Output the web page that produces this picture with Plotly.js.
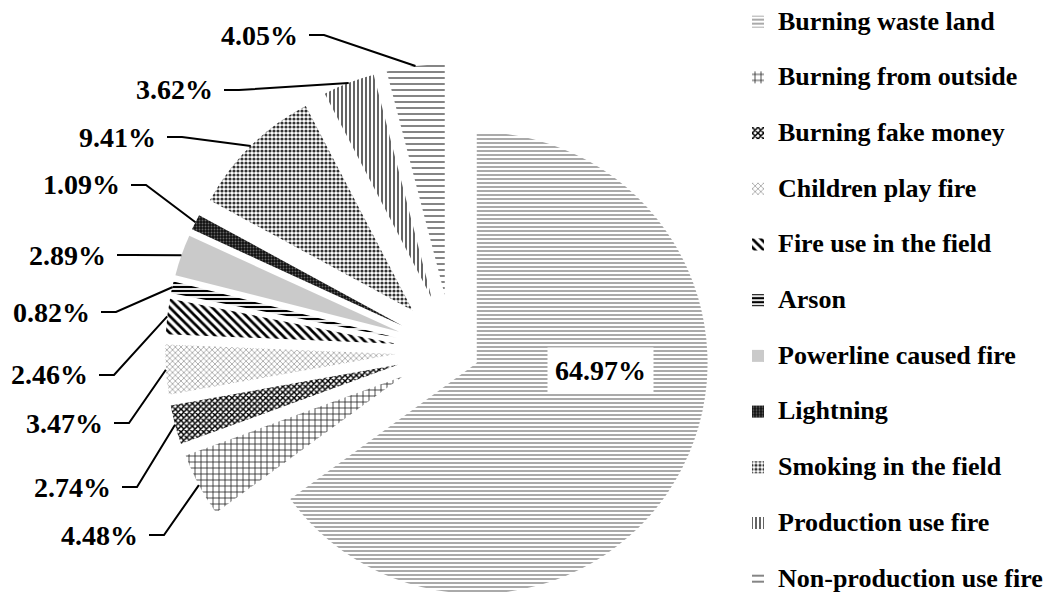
<!DOCTYPE html>
<html><head><meta charset="utf-8">
<script src="https://cdn.plot.ly/plotly-3.0.1.min.js"></script>
<style>
html,body{margin:0;padding:0;overflow:hidden;background:#fff;width:1057px;height:594px;}
#chart{position:absolute;left:0;top:-15px;width:1057px;height:652px;}
</style></head><body><div id="chart"></div>
<script>
// ---- data ----
const categories = ["Burning waste land","Burning from outside","Burning fake money","Children play fire",
  "Fire use in the field","Arson","Powerline caused fire","Lightning","Smoking in the field",
  "Production use fire","Non-production use fire"];
const shares = [64.97,4.48,2.74,3.47,2.46,0.82,2.89,1.09,9.41,3.62,4.05];
const valueLabels = shares.map(v => v.toFixed(2) + "%");

// ---- layout helpers (positions / styles, not data) ----
const OFFSET = 15;            // div shifted up by this many px
const FIG_W = 1057, FIG_H = 652;
// label anchor in viewport px: [x, y] (right edge of text for outer labels, centre for the inner one)
const labelPos = [[600,371],[140,535],[113,487],[105,423],[90,375],[92,312],[108,255],[122,185],[158,137],[215,90],[300,35]];
const FONT = "Liberation Serif, Times New Roman, serif";
const LABEL_SIZE = 28;

const patShape = ['-','+','x','x','\\','-','.','.','.','|','-'];
const patSize  = [4,6,4,4,6,4,2,3,4,4,6];
const patSolid = [0.28,0.25,0.6,0.3,0.45,0.55,0.5,0.3,0.5,0.35,0.3];
const patFg    = ['#666','#222','#000','#888','#000','#000','#888','#666','#333','#222','#777'];
const sliceBg  = ['#fff','#fff','#fff','#fff','#fff','#fff','#fff','#111','#fff','#fff','#fff'];
const pulls = shares.map(v => v > 50 ? 0.121 : 0.242);

const legendLabels = categories.map((c, i) =>
  '<span style="font-size:26px">' + c + '</span>' + (i < categories.length - 1 ? '<br>\u00a0' : ''));

const trace = {
  type: 'pie',
  labels: legendLabels,
  values: shares,
  sort: false,
  direction: 'clockwise',
  rotation: 0,
  pull: pulls,
  textinfo: 'none',
  hoverinfo: 'none',
  domain: {x: [0.14, 0.715], y: [0, 0.893]},
  marker: {
    colors: sliceBg,
    line: {width: 0},
    pattern: {shape: patShape, size: patSize, solidity: patSolid, fgcolor: patFg, bgcolor: sliceBg, fillmode: 'replace'}
  }
};

const layout = {
  width: FIG_W, height: FIG_H,
  margin: {l: 0, r: 0, t: 10, b: 0, autoexpand: false},
  paper_bgcolor: '#fff', plot_bgcolor: '#fff',
  showlegend: true,
  legend: {
    x: 738/FIG_W, xanchor: 'left', y: 1 - 7/642, yanchor: 'top',
    valign: 'top',
    font: {family: FONT, size: 20.27, color: '#000', weight: 'bold'},
    bgcolor: 'rgba(0,0,0,0)', traceorder: 'normal'
  }
};

Plotly.newPlot('chart', [trace], layout, {staticPlot: true}).then(gd => {
  const gs = gd._fullLayout._size;
  const cd = gd.calcdata[0];
  const cd0 = cd[0];
  const toPX = px => (px - gs.l) / gs.w;
  const toPY = py => 1 - (py - gs.t) / gs.h;
  const shapes = [], annotations = [];
  cd.forEach(pt => {
    const i = pt.i;
    let cx = pt.cxFinal, cy = pt.cyFinal;
    if (cx === undefined) { cx = cd0.cx + pulls[i]*pt.pxmid[0]; cy = cd0.cy + pulls[i]*pt.pxmid[1]; }
    const ax = cx + pt.pxmid[0], ay = cy + pt.pxmid[1];
    const lx = labelPos[i][0], ly = labelPos[i][1] + OFFSET;
    if (i === 0) {
      annotations.push({x: toPX(lx), y: toPY(ly), xref: 'paper', yref: 'paper', xanchor: 'center', yanchor: 'middle',
        text: valueLabels[i], showarrow: false, bgcolor: '#fff', borderpad: 7,
        font: {family: FONT, size: LABEL_SIZE, color: '#000', weight: 'bold'}});
    } else {
      annotations.push({x: toPX(lx), y: toPY(ly), xref: 'paper', yref: 'paper', xanchor: 'right', yanchor: 'middle',
        text: valueLabels[i], showarrow: false,
        font: {family: FONT, size: LABEL_SIZE, color: '#000', weight: 'bold'}});
      const p = 'M' + toPX(lx + 9) + ',' + toPY(ly) + ' L' + toPX(lx + 24) + ',' + toPY(ly) + ' L' + toPX(ax) + ',' + toPY(ay);
      shapes.push({type: 'path', xref: 'paper', yref: 'paper', path: p, line: {color: '#000', width: 2}});
    }
  });
  return Plotly.relayout(gd, {shapes: shapes, annotations: annotations});
});
</script></body></html>
